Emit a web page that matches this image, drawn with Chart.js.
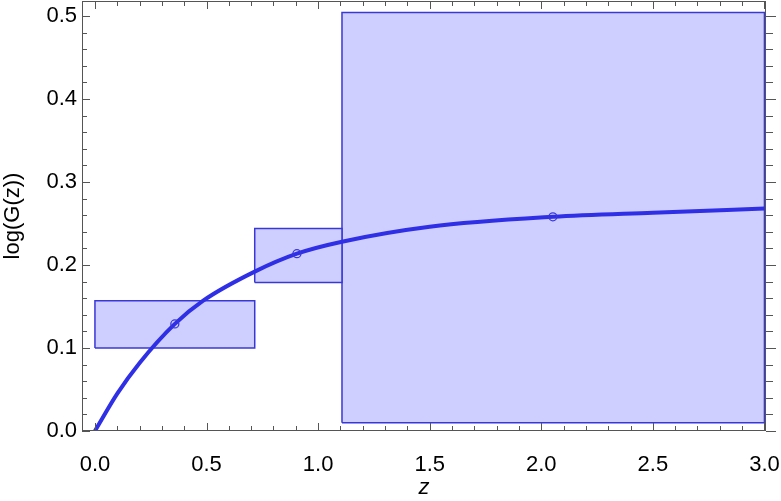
<!DOCTYPE html>
<html>
<head>
<meta charset="utf-8">
<script src="https://cdn.jsdelivr.net/npm/chart.js@4.4.1/dist/chart.umd.min.js"></script>
<style>
  html, body { margin: 0; padding: 0; background: #fff; }
  #wrap { width: 781px; height: 501px; }
</style>
</head>
<body>
<div id="wrap"><canvas id="logG" width="781" height="501"></canvas></div>
<script>
// curve
const curveZ = [0, 0.1, 0.2, 0.358, 0.485, 0.716, 0.905, 1.107, 1.5, 2.052, 2.5, 3.0]
const curveG = [0, 0.045, 0.082, 0.129, 0.157, 0.192, 0.2136, 0.228, 0.246, 0.258, 0.263, 0.268]

// the three marked points
const pointZ = [0.358, 0.905, 2.052]
const pointG = [0.129, 0.2136, 0.258]

// boxes: z range and log G range
const boxLeft = [0.0, 0.716, 1.107]
const boxRight = [0.716, 1.107, 3.0]
const boxLow = [0.100, 0.179, 0.010]
const boxHigh = [0.157, 0.244, 0.504]

const xTicks = [0, 0.5, 1.0, 1.5, 2.0, 2.5, 3.0]
const yTicks = [0, 0.1, 0.2, 0.3, 0.4, 0.5]

const blue = '#2f2fe6'
const edge = '#3838d8'
const boxFill = 'rgb(206,206,255)'
const frame = '#555'
const font = "'Liberation Sans', Arial, sans-serif"

const boxSets = boxLeft.map((l, i) => ({
    type: 'line',
    data: [
        {x: l, y: boxLow[i]},
        {x: l, y: boxHigh[i]},
        {x: boxRight[i], y: boxHigh[i]},
        {x: boxRight[i], y: boxLow[i]},
        {x: l, y: boxLow[i]}
    ],
    borderColor: edge,
    borderWidth: 1.5,
    backgroundColor: boxFill,
    fill: 'shape',
    pointRadius: 0,
    tension: 0,
    order: 3
}))

// frame ticks drawn inward like the original frame
const frameTicks = {
    id: 'frameTicks',
    afterDraw(chart) {
        const {ctx, chartArea: a, scales: {x, y}} = chart
        ctx.save()
        ctx.strokeStyle = frame
        ctx.lineWidth = 1
        ctx.strokeRect(a.left + 0.5, a.top + 0.5, a.right - a.left - 1, a.bottom - a.top - 1)
        for (let k = 0; k <= 30; k++) {
            const v = k / 10
            const px = Math.round(x.getPixelForValue(v)) + 0.5
            const len = k % 5 === 0 ? 8 : 5
            ctx.beginPath()
            ctx.moveTo(px, a.bottom); ctx.lineTo(px, a.bottom - len)
            ctx.moveTo(px, a.top); ctx.lineTo(px, a.top + len)
            ctx.stroke()
        }
        for (let k = 0; k <= 25; k++) {
            const v = k / 50
            const py = Math.round(y.getPixelForValue(v)) + 0.5
            const len = k % 5 === 0 ? 8 : 5
            ctx.beginPath()
            ctx.moveTo(a.left, py); ctx.lineTo(a.left + len, py)
            ctx.moveTo(a.right, py); ctx.lineTo(a.right + len + 2, py)
            ctx.stroke()
        }
        ctx.restore()
    }
}

const ctx = document.querySelector('#logG')
const logChart = new Chart(ctx, {
    type: 'scatter',
    data: {
        datasets: [
            {
                type: 'scatter',
                data: pointZ.map((z, i) => ({x: z, y: pointG[i]})),
                pointRadius: 4,
                pointBorderWidth: 1.3,
                pointBorderColor: edge,
                pointBackgroundColor: 'rgba(0,0,0,0)',
                order: 0
            },
            {
                type: 'line',
                data: curveZ.map((z, i) => ({x: z, y: curveG[i]})),
                borderColor: blue,
                borderWidth: 4,
                pointRadius: 0,
                cubicInterpolationMode: 'monotone',
                fill: false,
                order: 1
            },
            ...boxSets
        ]
    },
    options: {
        responsive: false,
        animation: false,
        layout: {autoPadding: false, padding: {top: 1, right: 15, left: 0, bottom: 0}},
        plugins: {legend: {display: false}, tooltip: {enabled: false}},
        scales: {
            x: {
                type: 'linear',
                min: -0.058,
                max: 3.007,
                afterBuildTicks: s => { s.ticks = xTicks.map(v => ({value: v})) },
                afterFit: s => { s.height = 70; s.paddingLeft = 0; s.paddingRight = 0 },
                grid: {display: false, drawTicks: false},
                border: {display: false},
                ticks: {
                    color: '#000',
                    padding: 21,
                    maxRotation: 0,
                    font: {family: font, size: 22},
                    callback: v => Number(v).toFixed(1)
                },
                title: {
                    display: true,
                    text: 'z',
                    color: '#000',
                    padding: {top: 0, bottom: 0},
                    font: {family: font, size: 22, style: 'italic'}
                }
            },
            y: {
                type: 'linear',
                min: 0,
                max: 0.518,
                afterBuildTicks: s => { s.ticks = yTicks.map(v => ({value: v})) },
                afterFit: s => { s.width = 82; s.paddingTop = 0; s.paddingBottom = 0 },
                grid: {display: false, drawTicks: false},
                border: {display: false},
                ticks: {
                    color: '#000',
                    padding: 5,
                    font: {family: font, size: 22},
                    callback: v => Number(v).toFixed(1)
                },
                title: {
                    display: true,
                    text: 'log(G(z))',
                    color: '#000',
                    padding: {top: 0, bottom: 0},
                    font: {family: font, size: 22}
                }
            }
        }
    },
    plugins: [frameTicks]
})
</script>
</body>
</html>
